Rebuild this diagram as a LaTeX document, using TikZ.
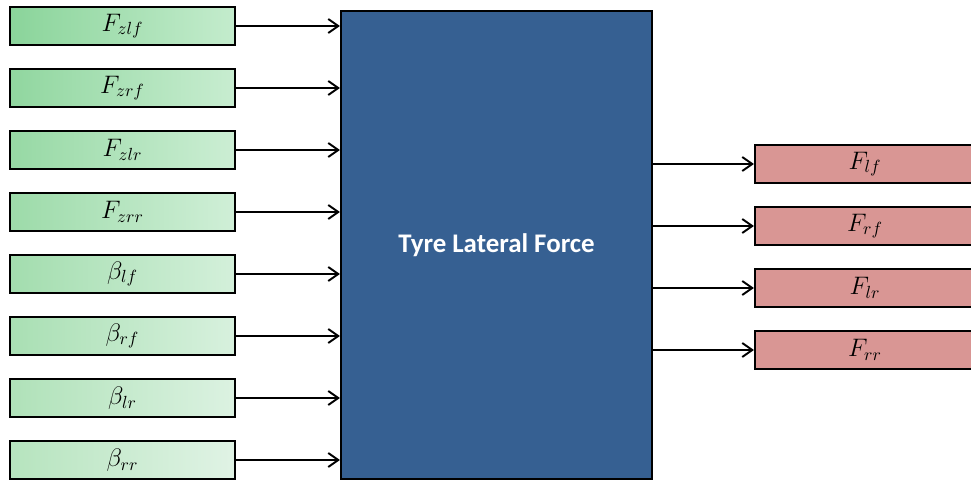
\documentclass[tikz,border=0pt]{standalone}
\usepackage{fontspec}
\setmainfont{Carlito}
\usetikzlibrary{arrows.meta}

\definecolor{ingreenA}{RGB}{138,212,154}
\definecolor{ingreenB}{RGB}{196,236,205}
\definecolor{ingreenC}{RGB}{182,228,190}
\definecolor{ingreenD}{RGB}{224,243,229}
\definecolor{blockblue}{RGB}{54,96,146}
\definecolor{outred}{RGB}{217,150,148}

\tikzset{
  inbox/.style={draw=black, line width=1.2pt, minimum width=4.5cm, minimum height=0.76cm,
    left color=ingreenA!#1!ingreenC, right color=ingreenB!#1!ingreenD,
    font=\fontsize{14}{16}\selectfont},
  outbox/.style={draw=black, line width=1.2pt, minimum width=4.4cm, minimum height=0.76cm,
    fill=outred, font=\fontsize{14}{16}\selectfont},
  sig/.style={line width=1.1pt, -{Straight Barb[length=2mm,width=2.8mm]}}
}

\begin{document}
\begin{tikzpicture}
			%%%%% START %%%%%
			\useasboundingbox (0, 0) rectangle (19.42, 9.6);
			
			% main block
			\node[draw=black, line width=1.2pt, fill=blockblue, minimum width=6.22cm, minimum height=9.36cm,
			      text=white, font=\fontsize{15.3}{18}\selectfont\bfseries] (tlf) at (9.93, 4.7) {Tyre Lateral Force};
			
			% inputs
			\node[inbox=100] (fzlf) at (2.45, 9.08) {$F_{zlf}$};
			\node[inbox=86] (fzrf) at (2.45, 7.84) {$F_{zrf}$};
			\node[inbox=72] (fzlr) at (2.45, 6.60) {$F_{zlr}$};
			\node[inbox=58] (fzrr) at (2.45, 5.36) {$F_{zrr}$};
			\node[inbox=44] (blf) at (2.45, 4.12) {$\beta_{lf}$};
			\node[inbox=30] (brf) at (2.45, 2.88) {$\beta_{rf}$};
			\node[inbox=15] (blr) at (2.45, 1.64) {$\beta_{lr}$};
			\node[inbox=0] (brr) at (2.45, 0.40) {$\beta_{rr}$};
			
			\draw[sig] (fzlf.east) -- (fzlf.east -| tlf.west);
			\draw[sig] (fzrf.east) -- (fzrf.east -| tlf.west);
			\draw[sig] (fzlr.east) -- (fzlr.east -| tlf.west);
			\draw[sig] (fzrr.east) -- (fzrr.east -| tlf.west);
			\draw[sig] (blf.east) -- (blf.east -| tlf.west);
			\draw[sig] (brf.east) -- (brf.east -| tlf.west);
			\draw[sig] (blr.east) -- (blr.east -| tlf.west);
			\draw[sig] (brr.east) -- (brr.east -| tlf.west);
			
			% outputs
			\node[outbox] (flf) at (17.3, 6.32) {$F_{lf}$};
			\node[outbox] (frf) at (17.3, 5.08) {$F_{rf}$};
			\node[outbox] (flr) at (17.3, 3.84) {$F_{lr}$};
			\node[outbox] (frr) at (17.3, 2.60) {$F_{rr}$};
			
			\draw[sig] (flf.west -| tlf.east) -- (flf.west);
			\draw[sig] (frf.west -| tlf.east) -- (frf.west);
			\draw[sig] (flr.west -| tlf.east) -- (flr.west);
			\draw[sig] (frr.west -| tlf.east) -- (frr.west);
			
			%%%%% END %%%%%
\end{tikzpicture}
\end{document}
